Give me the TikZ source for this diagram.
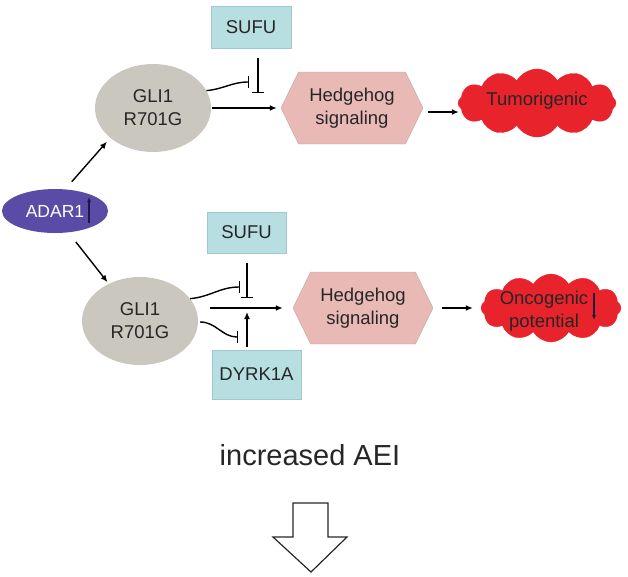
\documentclass[tikz,border=0pt]{standalone}
\usepackage{fontspec}
\setmainfont{Liberation Sans}
\usetikzlibrary{shapes.symbols,shapes.geometric,arrows.meta}
\definecolor{boxfill}{HTML}{B7DEE1}
\definecolor{boxline}{HTML}{9FC9CC}
\definecolor{gligray}{HTML}{C9C7BE}
\definecolor{adarpurple}{HTML}{5A4BA6}
\definecolor{hhpink}{HTML}{E8B9B5}
\definecolor{hhline}{HTML}{BBAAA7}
\definecolor{cloudred}{HTML}{E8232B}
\definecolor{txt}{HTML}{262626}
\definecolor{navy}{HTML}{1C1A45}
\begin{document}
\begin{tikzpicture}[x=1pt,y=-1pt,
  lbl/.style={font=\fontsize{18.5}{23}\selectfont, text=txt, align=center},
  box/.style={lbl, rectangle, draw=boxline, fill=boxfill, inner sep=0pt},
  gli/.style={lbl, ellipse, fill=gligray, minimum width=116pt, minimum height=88pt, inner sep=0pt},
  hh/.style={lbl, signal, signal to=east and west, signal pointer angle=128, fill=hhpink, draw=hhline, minimum height=72pt, inner sep=0pt},
  cloudy/.style={cloud, cloud puffs=12, cloud puff arc=120, cloud ignores aspect, fill=cloudred, draw=cloudred, inner sep=0pt},
  act/.style={-{Latex[length=7pt,width=6pt]}, line width=1.4pt, draw=black},
  inh/.style={-{Bar[width=12pt,line width=1.4pt]}, line width=1.4pt, draw=black}
]
\useasboundingbox (0,0) rectangle (628,576);

% ---------- nodes ----------
\node[ellipse, fill=adarpurple, minimum width=106pt, minimum height=44pt, inner sep=0pt,
      font=\fontsize{17.5}{21}\selectfont, text=white] (adar) at (55,211) {ADAR1\hspace{8pt}};

\node[box, minimum width=80pt, minimum height=42pt] (sufu1) at (251,27) {SUFU};
\node[gli] (gli1) at (153,108) {GLI1\\R701G};
\node[hh, minimum width=142pt] (hh1) at (352,108) {Hedgehog\\signaling};
\node[cloudy, minimum width=158pt, minimum height=68pt] (cl1) at (537,103) {};
\node[lbl, text=txt] (tum) at (537,101) {Tumorigenic};

\node[box, minimum width=79pt, minimum height=41pt] (sufu2) at (246.5,232.5) {SUFU};
\node[gli] (gli2) at (140,321) {GLI1\\R701G};
\node[box, minimum width=89pt, minimum height=49pt] (dyrk) at (256.5,374.5) {DYRK1A};
\node[hh, minimum width=140pt] (hh2) at (363,308) {Hedgehog\\signaling};
\node[cloudy, minimum width=140pt, minimum height=68pt] (cl2) at (551,308) {};
\node[lbl, text=txt] (onc) at (544,311) {Oncogenic\\potential};

\node[font=\fontsize{29}{34}\selectfont, text=txt] (aei) at (310,455) {increased AEI};

% ---------- named free ends ----------
\coordinate (t1) at (249,82);
\coordinate (t2) at (258,93);
\coordinate (b1) at (240,287);
\coordinate (b2) at (247,298);
\coordinate (b3) at (238,337);
\coordinate (b4) at (247,312);
\coordinate (aup) at (89,197);
\coordinate (adn) at (594,320);

% ---------- small up / down arrows in text ----------
\draw[-{Latex[length=5pt,width=4pt]}, line width=1.1pt, navy] (aup |- adar.south) ++(0,-10) -- (aup);
\draw[-{Latex[length=5pt,width=4pt]}, line width=1.1pt, navy] (adn |- onc.north) ++(0,6) -- (adn);

% ---------- ADAR1 arrows ----------
\draw[act, shorten <=10pt, shorten >=5pt] (adar.65) -- (gli1.215);
\draw[act, shorten <=12pt, shorten >=2pt] (adar.-58) -- (gli2.130);

% ---------- top pathway ----------
\draw[inh] (gli1.18) to[out=5, in=180] (t1);
\draw[inh, shorten <=10pt] (sufu1.south -| t2) -- (t2);
\draw[act, line width=2pt, shorten <=1pt, shorten >=4pt] (gli1.east) -- (hh1.west);
\draw[act] ([shift={(5,4)}]hh1.east) -- ([shift={(1,4)}]hh1.east -| cl1.west);

% ---------- bottom pathway ----------
\draw[inh] (gli2.24) to[out=5, in=180] (b1);
\draw[inh, shorten <=10pt] (sufu2.south -| b2) -- (b2);
\draw[act, line width=2pt, shorten >=10pt] ([shift={(12,-13)}]gli2.east) -- (hh2.west);
\draw[inh] ([shift={(2,1)}]gli2.east) to[out=0, in=180] (b3);
\draw[act, shorten <=3pt] (dyrk.north -| b4) -- (b4);
\draw[act] ([xshift=9pt]hh2.east) -- ([xshift=-8pt]hh2.east -| cl2.west);

% ---------- hollow down arrow ----------
\draw[line width=1.2pt, line join=miter, draw=txt]
  (293,503) -- (328,503) -- (328,537) -- (347,537) -- (311,572) -- (273,537) -- (293,537) -- cycle;
\end{tikzpicture}
\end{document}
